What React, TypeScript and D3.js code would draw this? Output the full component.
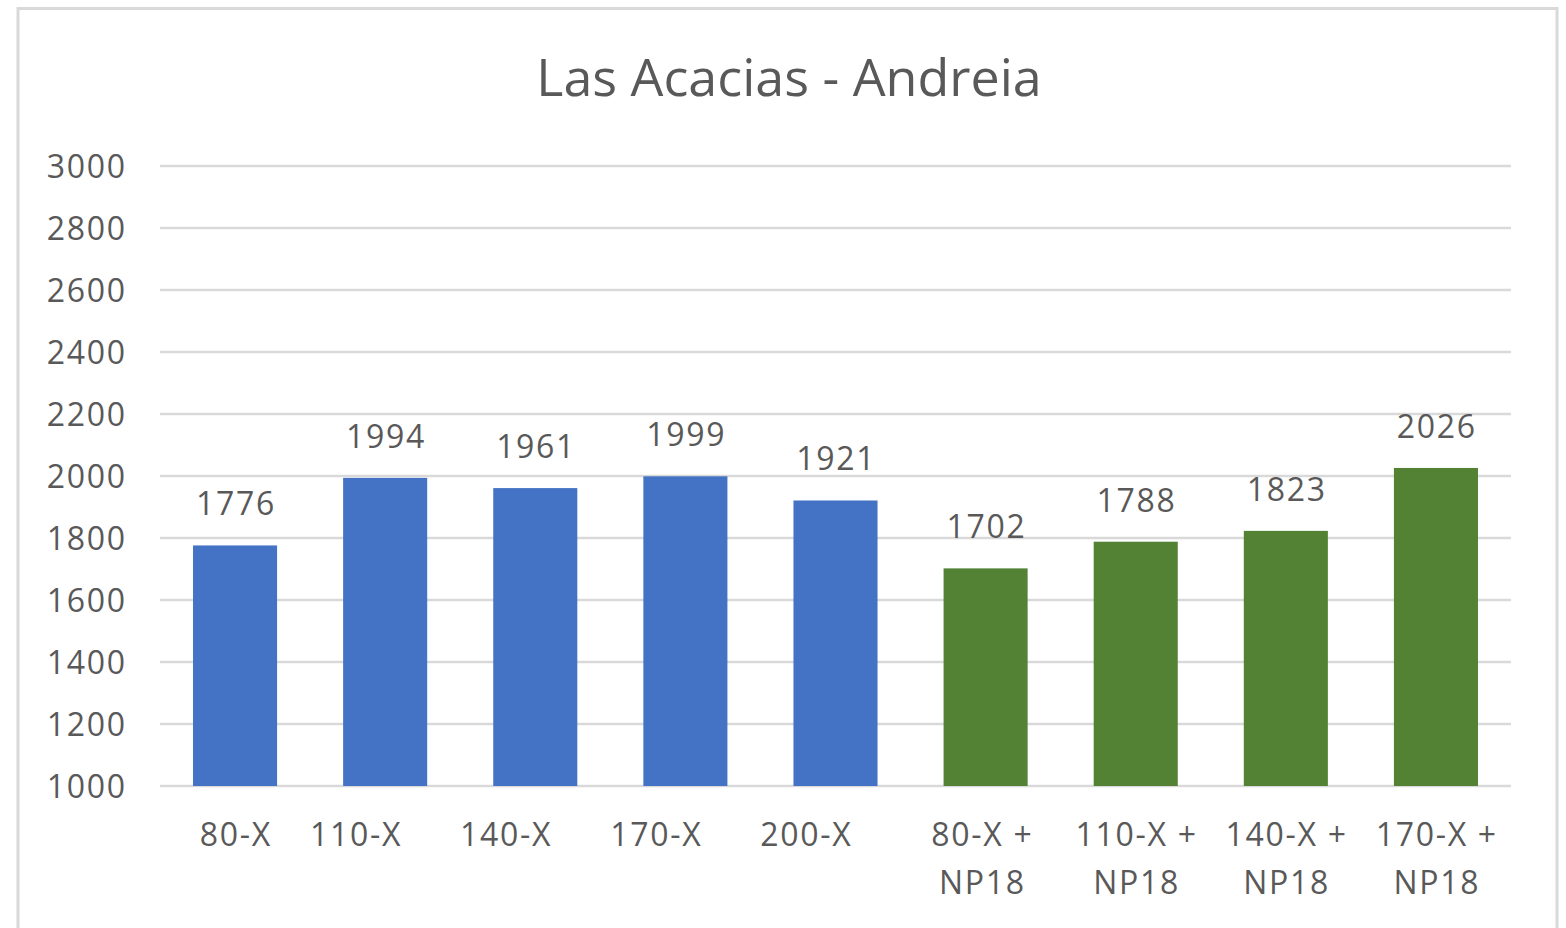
import React from "react";
import * as d3 from "d3";

const categories: string[][] = [
  ["80-X"], ["110-X"], ["140-X"], ["170-X"], ["200-X"],
  ["80-X +", "NP18"], ["110-X +", "NP18"], ["140-X +", "NP18"], ["170-X +", "NP18"],
];
const values: number[] = [1776, 1994, 1961, 1999, 1921, 1702, 1788, 1823, 2026];
const seriesIndex: number[] = [0, 0, 0, 0, 0, 1, 1, 1, 1];
const seriesColors: string[] = ["#4472C4", "#548235"];
const yTicks: number[] = [1000, 1200, 1400, 1600, 1800, 2000, 2200, 2400, 2600, 2800, 3000];
const title = "Las Acacias - Andreia";

const W = 1566, H = 928;
const FONT = "'Open Sans', 'Noto Sans', sans-serif";
const TEXT = "#595959";
const FS = 32;
const LS = 1.7;

export default function App() {
  const x = d3.scaleBand<number>().domain(d3.range(categories.length)).range([160, 1511]).paddingInner(0.44).paddingOuter(0.22);
  const y = d3.scaleLinear().domain([1000, 3000]).range([786, 166]);
  // Excel placed the single-line labels of categories 2-5 left of their bar centres
  const labelDx = (i: number, lines: number) => (lines === 1 && i > 0 ? -30 : lines === 2 && i === 5 ? -4 : 0);
  return (
    <div style={{ position: "fixed", left: 0, top: 0 }}>
      <svg width={W} height={H} style={{ display: "block", background: "#fff" }}>
        <rect x={18} y={8.5} width={1539} height={940} fill="#fff" stroke="#d9d9d9" strokeWidth={3} />
        <text x={789} y={96} textAnchor="middle" fontFamily={FONT} fontSize={52} fill={TEXT}>{title}</text>
        {yTicks.map((t) => (
          <g key={t}>
            <line x1={160} x2={1511} y1={y(t)} y2={y(t)} stroke="#d9d9d9" strokeWidth={2.5} />
            <text x={125 + LS} y={y(t)} dy="0.36em" textAnchor="end" fontFamily={FONT} fontSize={FS} letterSpacing={LS} fill={TEXT}>{t}</text>
          </g>
        ))}
        {values.map((v, i) => {
          const bx = x(i)!;
          const bw = x.bandwidth();
          const cx = bx + bw / 2 + LS / 2;
          return (
            <g key={i}>
              <rect x={bx} y={y(v)} width={bw} height={y(1000) - y(v)} fill={seriesColors[seriesIndex[i]]} />
              <text x={cx} y={y(v) - 30} textAnchor="middle" fontFamily={FONT} fontSize={FS} letterSpacing={LS} fill={TEXT}>{v}</text>
              {categories[i].map((line, j) => (
                <text key={j} x={cx + labelDx(i, categories[i].length)} y={846 + j * 48} textAnchor="middle" fontFamily={FONT} fontSize={FS} letterSpacing={LS} fill={TEXT}>{line}</text>
              ))}
            </g>
          );
        })}
      </svg>
    </div>
  );
}
